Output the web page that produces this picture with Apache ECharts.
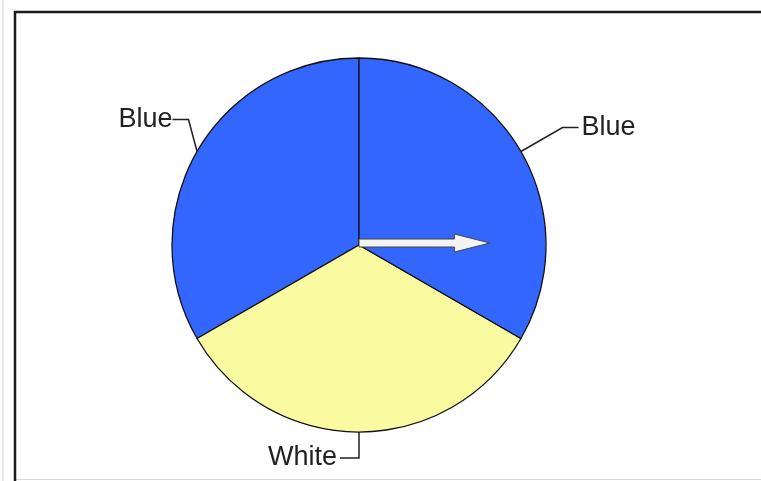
<!DOCTYPE html>
<html>
<head>
<meta charset="utf-8">
<style>
  html, body { margin: 0; padding: 0; background: #fff; }
  #chart { width: 761px; height: 481px; }
</style>
<script src="https://cdn.jsdelivr.net/npm/echarts@6/dist/echarts.min.js"></script>
</head>
<body>
<div id="chart"></div>
<script>
// slice names and values (three equal parts), listed counter-clockwise from the top
const sliceNames = ['Blue', 'White', 'Blue'];
const sliceValues = [1, 1, 1];
const sliceColors = ['#3366ff', '#fafaa0', '#3366ff'];

const cx = 359, cy = 245, r = 187;

const chart = echarts.init(document.getElementById('chart'));

const option = {
  animation: false,
  graphic: [
    // faint page edge on the left and bottom
    { type: 'line', shape: { x1: 3, y1: 0, x2: 3, y2: 481 }, style: { stroke: '#d0d0d0', lineWidth: 1 } },
    { type: 'line', shape: { x1: 15, y1: 479.5, x2: 761, y2: 479.5 }, style: { stroke: '#d8d8d8', lineWidth: 1 } },
    // frame
    { type: 'polyline', shape: { points: [[15, 481], [15, 12], [761, 12]] }, style: { stroke: '#1a1a1a', lineWidth: 2.5, fill: null } },
    // arrow from the centre pointing right
    {
      type: 'polygon',
      z: 100,
      shape: {
        points: [
          [cx, cy - 6], [cx + r * 0.51, cy - 6], [cx + r * 0.51, cy - 11],
          [cx + r * 0.70, cy - 2], [cx + r * 0.51, cy + 7], [cx + r * 0.51, cy + 2], [cx, cy + 2]
        ]
      },
      style: { fill: '#f4f4f4', stroke: '#444', lineWidth: 1 }
    }
  ],
  series: [
    {
      type: 'pie',
      center: [cx, cy],
      radius: r,
      startAngle: 90,
      clockwise: false,
      data: sliceNames.map((n, i) => ({
        name: n,
        value: sliceValues[i],
        itemStyle: { color: sliceColors[i] },
        labelLine: n === 'White' ? { length: 26, length2: 19 } : {}
      })),
      itemStyle: { borderColor: '#111', borderWidth: 1.3 },
      label: {
        show: true,
        formatter: '{b}',
        fontFamily: 'Liberation Sans, Arial, sans-serif',
        fontSize: 27,
        color: '#222',
        distanceToLabelLine: 3
      },
      labelLine: {
        show: true,
        length: 48,
        length2: 16,
        lineStyle: { color: '#222', width: 1.5 }
      },
      // the upper-left label sits closer to the pie than a radial leader would put it
      labelLayout: function (params) {
        if (params.dataIndex !== 0) return {};
        const rect = params.labelRect;
        return {
          x: rect.x + rect.width + 36,
          y: rect.y + rect.height / 2 - 8,
          align: 'right',
          verticalAlign: 'middle'
        };
      },
      emphasis: { disabled: true }
    }
  ]
};

chart.setOption(option);
</script>
</body>
</html>
